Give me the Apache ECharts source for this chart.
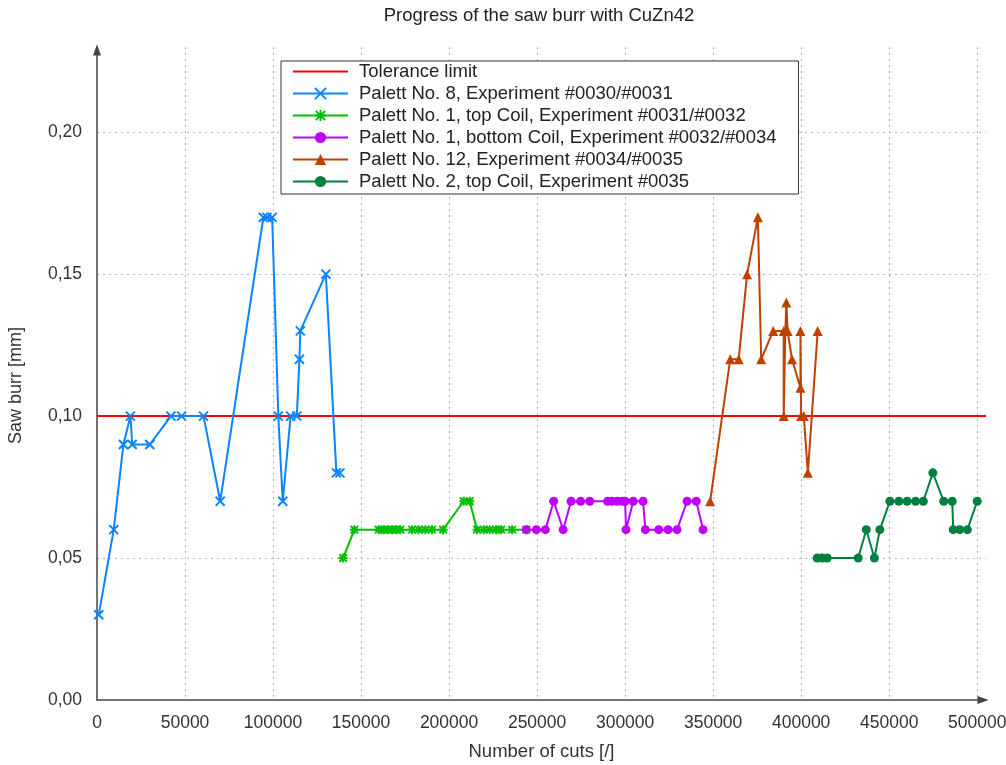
<!DOCTYPE html>
<html>
<head>
<meta charset="utf-8">
<script src="https://cdn.jsdelivr.net/npm/echarts@6/dist/echarts.min.js"></script>
<style>
  html, body { margin: 0; padding: 0; background: #fff; }
  #chart { width: 1006px; height: 765px; }
</style>
</head>
<body>
<div id="chart"></div>
<script>
// Tolerance limit for the saw burr
const toleranceCuts = [0, 505000];
const toleranceBurr = [0.10, 0.10];

// Palett No. 8, Experiment #0030/#0031
const palett8Cuts = [1000, 9500, 15000, 19000, 20000, 30000, 42000, 48000, 60500, 70000,
  94500, 96500, 99500, 103000, 105500, 110000, 113500, 115000, 115500, 130000, 136000, 138000];
const palett8Burr = [0.03, 0.06, 0.09, 0.10, 0.09, 0.09, 0.10, 0.10, 0.10, 0.07,
  0.17, 0.17, 0.17, 0.10, 0.07, 0.10, 0.10, 0.12, 0.13, 0.15, 0.08, 0.08];

// Palett No. 1, top Coil, Experiment #0031/#0032
const palett1TopCuts = [139800, 146200, 160000, 162900, 165100, 167600, 170100, 172300, 179000,
  182700, 186500, 190300, 196600, 208300, 211700, 215900, 219700, 223100, 226700, 229600, 235800, 243900];
const palett1TopBurr = [0.05, 0.06, 0.06, 0.06, 0.06, 0.06, 0.06, 0.06, 0.06,
  0.06, 0.06, 0.06, 0.06, 0.07, 0.07, 0.06, 0.06, 0.06, 0.06, 0.06, 0.06, 0.06];

// Palett No. 1, bottom Coil, Experiment #0032/#0034
const palett1BottomCuts = [243900, 249600, 254700, 259400, 264800, 269300, 274700, 279900, 290100,
  292600, 295500, 298300, 300000, 300500, 304600, 310200, 311500, 319100, 324400, 329500, 335200, 340400, 344300];
const palett1BottomBurr = [0.06, 0.06, 0.06, 0.07, 0.06, 0.07, 0.07, 0.07, 0.07,
  0.07, 0.07, 0.07, 0.07, 0.06, 0.07, 0.07, 0.06, 0.06, 0.06, 0.06, 0.07, 0.07, 0.06];

// Palett No. 12, Experiment #0034/#0035
const palett12Cuts = [348300, 359700, 364500, 369300, 375400, 377300, 384100, 390100, 390100,
  391000, 391600, 392300, 394800, 399600, 399600, 400000, 401500, 403800, 409400];
const palett12Burr = [0.07, 0.12, 0.12, 0.15, 0.17, 0.12, 0.13, 0.13, 0.10,
  0.13, 0.14, 0.13, 0.12, 0.11, 0.13, 0.10, 0.10, 0.08, 0.13];

// Palett No. 2, top Coil, Experiment #0035
const palett2TopCuts = [409100, 411900, 414800, 432400, 437000, 441600, 444700, 450400, 455500,
  460200, 465000, 469400, 474800, 481000, 485800, 486400, 490100, 494400, 500000];
const palett2TopBurr = [0.05, 0.05, 0.05, 0.05, 0.06, 0.05, 0.06, 0.07, 0.07,
  0.07, 0.07, 0.07, 0.08, 0.07, 0.07, 0.06, 0.06, 0.06, 0.07];

// Axis ticks
const xTicks = [0, 50000, 100000, 150000, 200000, 250000, 300000, 350000, 400000, 450000, 500000];
const yTicks = [0.00, 0.05, 0.10, 0.15, 0.20];

const FONT = '"Liberation Sans", Arial, sans-serif';
const zip = (xs, ys) => xs.map((x, i) => [x, ys[i]]);

const crossPath = 'path://M0,0L10,10M10,0L0,10';
const starPath = 'path://M0,0L10,10M10,0L0,10M5,-1L5,11M-1,5L11,5';

function lineSeries(name, xs, ys, color, symbol, size, hollow) {
  return {
    name: name,
    type: 'line',
    data: zip(xs, ys),
    symbol: symbol,
    symbolSize: size,
    showAllSymbol: true,
    lineStyle: { color: color, width: 2 },
    itemStyle: hollow
      ? { color: color, borderColor: color, borderWidth: 2 }
      : { color: color, borderColor: color, borderWidth: 0 },
    emphasis: { disabled: true },
    z: 3
  };
}

const chart = echarts.init(document.getElementById('chart'), null, { renderer: 'canvas' });

const axisArrow = {
  show: true,
  symbol: ['none', 'triangle'],
  symbolSize: [8, 11],
  symbolOffset: [0, -3],
  lineStyle: { color: '#444', width: 1.5 }
};
const dotted = { show: true, showMinLine: false, showMaxLine: false,
  lineStyle: { color: '#b4b4b4', width: 1, type: [2, 4] } };

chart.setOption({
  animation: false,
  backgroundColor: '#ffffff',
  textStyle: { fontFamily: FONT },
  title: {
    text: 'Progress of the saw burr with CuZn42',
    left: 534,
    textAlign: 'center',
    top: 1,
    textStyle: { fontFamily: FONT, fontSize: 18.5, fontWeight: 'normal', color: '#222' }
  },
  legend: {
    orient: 'vertical',
    left: 281,
    top: 61,
    padding: [1, 22, 3, 11],
    itemWidth: 55,
    itemHeight: 14,
    itemGap: 3,
    backgroundColor: '#fff',
    borderColor: '#333',
    borderWidth: 1,
    textStyle: { fontFamily: FONT, fontSize: 18.5, lineHeight: 18, color: '#222', padding: [0, 0, 0, 6] },
    data: [
      { name: 'Tolerance limit', itemStyle: { opacity: 0 } },
      'Palett No. 8, Experiment #0030/#0031',
      'Palett No. 1, top Coil, Experiment #0031/#0032',
      'Palett No. 1, bottom Coil, Experiment #0032/#0034',
      'Palett No. 12, Experiment #0034/#0035',
      'Palett No. 2, top Coil, Experiment #0035'
    ]
  },
  grid: { left: 97, right: 20, top: 47, bottom: 65, containLabel: false, outerBoundsMode: 'none' },
  xAxis: {
    type: 'value',
    min: 0,
    max: 505000,
    interval: 50000,
    name: 'Number of cuts [/]',
    nameLocation: 'middle',
    nameGap: 42,
    nameTextStyle: { fontFamily: FONT, fontSize: 18.5, color: '#333' },
    axisLine: axisArrow,
    axisTick: { show: false },
    axisLabel: {
      margin: 14, fontSize: 17.5, color: '#333', fontFamily: FONT, showMaxLabel: false,
      formatter: v => (xTicks.indexOf(v) >= 0 ? String(v) : '')
    },
    splitLine: dotted
  },
  yAxis: {
    type: 'value',
    min: 0,
    max: 0.23,
    interval: 0.05,
    name: 'Saw burr [mm]',
    nameLocation: 'middle',
    nameGap: 72,
    nameRotate: 90,
    nameTextStyle: { fontFamily: FONT, fontSize: 18, color: '#333', padding: [0, 24, 0, 0] },
    axisLine: axisArrow,
    axisTick: { show: false },
    axisLabel: {
      margin: 15, fontSize: 17.5, color: '#333', fontFamily: FONT, showMaxLabel: false,
      formatter: v => {
        const t = yTicks.find(k => Math.abs(k - v) < 1e-9);
        return t === undefined ? '' : t.toFixed(2).replace('.', ',');
      }
    },
    splitLine: dotted
  },
  series: [
    {
      name: 'Tolerance limit',
      type: 'line',
      data: zip(toleranceCuts, toleranceBurr),
      symbol: 'none',
      lineStyle: { color: '#ff0000', width: 2 },
      itemStyle: { color: '#ff0000' },
      emphasis: { disabled: true },
      z: 2
    },
    lineSeries('Palett No. 8, Experiment #0030/#0031', palett8Cuts, palett8Burr, '#0a84ff', crossPath, 9, true),
    lineSeries('Palett No. 1, top Coil, Experiment #0031/#0032', palett1TopCuts, palett1TopBurr, '#00c000', starPath, 9, true),
    lineSeries('Palett No. 1, bottom Coil, Experiment #0032/#0034', palett1BottomCuts, palett1BottomBurr, '#c000ff', 'circle', 9, false),
    lineSeries('Palett No. 12, Experiment #0034/#0035', palett12Cuts, palett12Burr, '#c04000', 'triangle', 10, false),
    lineSeries('Palett No. 2, top Coil, Experiment #0035', palett2TopCuts, palett2TopBurr, '#00803f', 'circle', 9, false)
  ]
});
</script>
</body>
</html>
